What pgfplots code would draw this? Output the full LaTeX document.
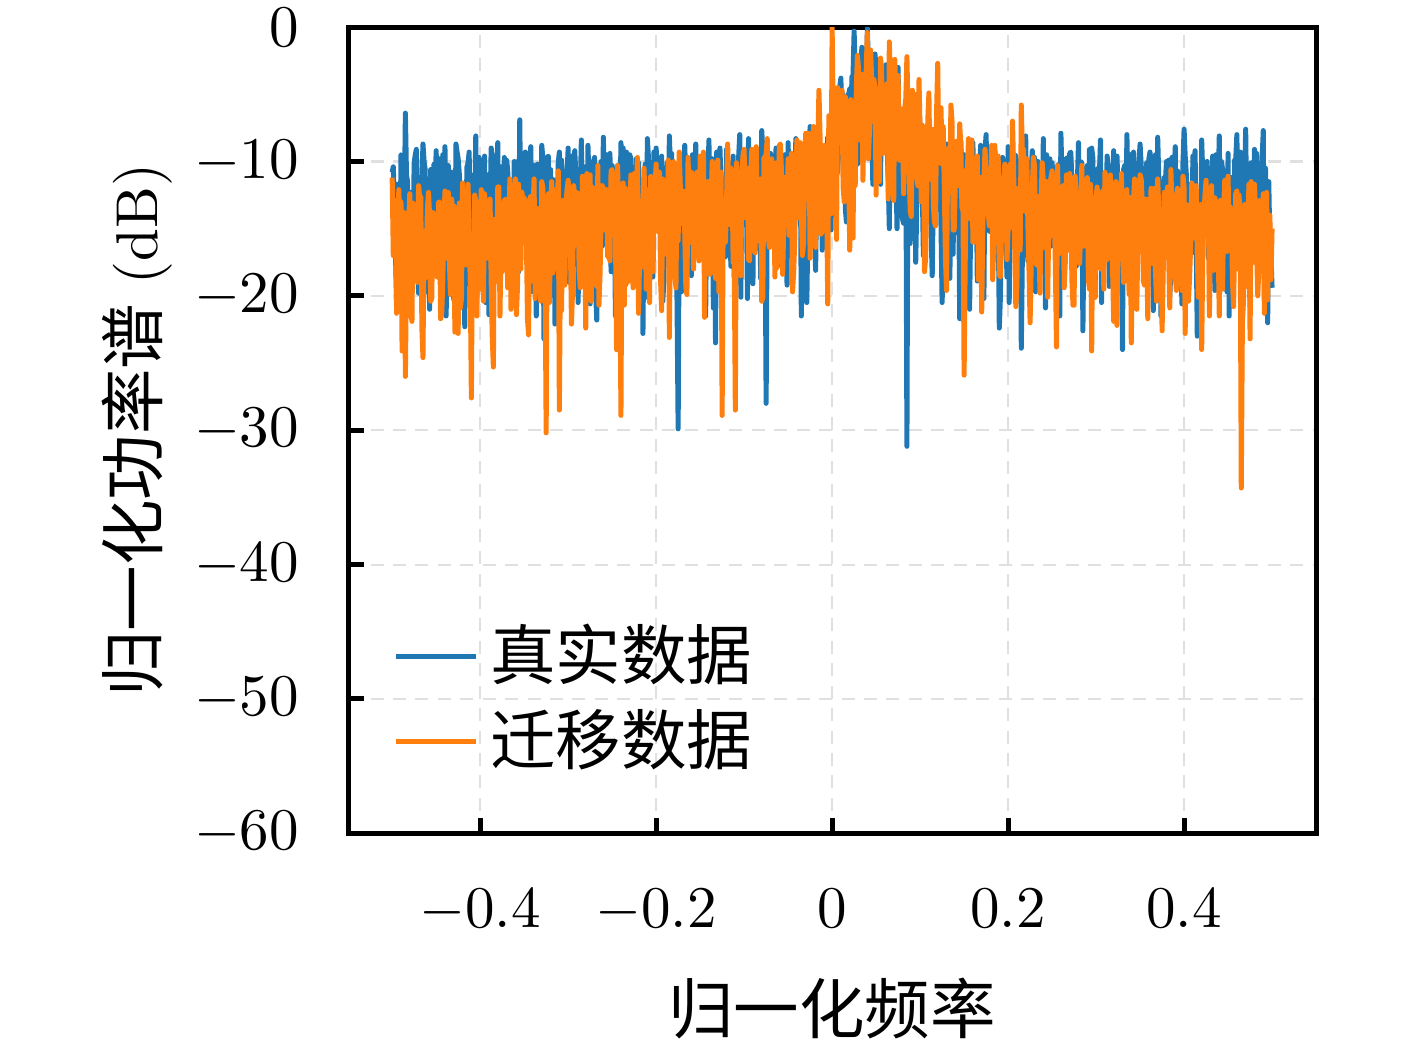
\documentclass[border=0pt]{standalone}
\usepackage{fontspec}
\usepackage{pgfplots}
\pgfplotsset{compat=1.18}
\usepackage{pgfplotstable}
\newfontfamily\cjk[Scale=1.11]{Noto Sans CJK SC}
\definecolor{tabblue}{HTML}{1F77B4}
\definecolor{taborange}{HTML}{FF7F0E}
\pgfplotstableread{
x b o
-0.50000 -10.8 -11.2
-0.49875 -10.4 -17.0
-0.49750 -12.9 -16.2
-0.49625 -16.8 -12.9
-0.49500 -20.5 -21.3
-0.49375 -11.7 -19.9
-0.49250 -18.3 -12.1
-0.49125 -19.0 -15.3
-0.49000 -9.5 -13.0
-0.48875 -9.6 -24.1
-0.48750 -9.8 -19.4
-0.48625 -13.7 -13.8
-0.48500 -6.4 -26.0
-0.48375 -11.0 -18.2
-0.48250 -11.5 -14.8
-0.48125 -20.5 -14.5
-0.48000 -14.2 -12.4
-0.47875 -12.3 -21.4
-0.47750 -16.9 -21.9
-0.47625 -15.6 -13.1
-0.47500 -10.1 -18.9
-0.47375 -9.5 -14.1
-0.47250 -9.1 -15.3
-0.47125 -14.9 -19.0
-0.47000 -19.8 -11.8
-0.46875 -18.2 -12.7
-0.46750 -13.4 -12.6
-0.46625 -11.4 -22.4
-0.46500 -8.7 -24.6
-0.46375 -10.0 -15.2
-0.46250 -10.6 -18.7
-0.46125 -19.7 -17.6
-0.46000 -12.3 -13.6
-0.45875 -13.1 -12.3
-0.45750 -21.0 -14.0
-0.45625 -10.6 -20.4
-0.45500 -17.6 -20.2
-0.45375 -16.3 -13.8
-0.45250 -10.2 -16.9
-0.45125 -12.0 -17.1
-0.45000 -9.2 -14.1
-0.44875 -14.2 -18.6
-0.44750 -11.9 -13.1
-0.44625 -9.8 -13.0
-0.44500 -15.8 -21.7
-0.44375 -17.4 -21.4
-0.44250 -9.5 -19.0
-0.44125 -11.2 -14.5
-0.44000 -8.9 -12.2
-0.43875 -21.5 -17.2
-0.43750 -17.7 -15.2
-0.43625 -10.3 -12.3
-0.43500 -11.6 -17.4
-0.43375 -14.5 -19.9
-0.43250 -10.8 -12.8
-0.43125 -11.6 -13.8
-0.43000 -20.3 -13.3
-0.42875 -17.8 -22.7
-0.42750 -8.7 -17.6
-0.42625 -9.3 -15.1
-0.42500 -9.8 -22.8
-0.42375 -10.9 -13.1
-0.42250 -12.4 -20.9
-0.42125 -18.6 -20.2
-0.42000 -13.9 -11.6
-0.41875 -12.4 -13.9
-0.41750 -22.3 -13.7
-0.41625 -15.2 -17.7
-0.41500 -10.4 -16.7
-0.41375 -10.1 -11.7
-0.41250 -9.3 -15.9
-0.41125 -17.1 -19.0
-0.41000 -17.2 -27.6
-0.40875 -11.5 -15.8
-0.40750 -11.0 -19.8
-0.40625 -13.9 -12.5
-0.40500 -8.1 -12.9
-0.40375 -20.1 -21.5
-0.40250 -14.6 -13.5
-0.40125 -9.7 -14.1
-0.40000 -12.7 -19.5
-0.39875 -15.6 -12.1
-0.39750 -10.3 -16.6
-0.39625 -12.3 -20.4
-0.39500 -9.6 -12.4
-0.39375 -20.5 -13.5
-0.39250 -12.2 -13.0
-0.39125 -11.0 -17.2
-0.39000 -21.4 -15.8
-0.38875 -13.7 -12.8
-0.38750 -9.0 -18.9
-0.38625 -9.6 -23.1
-0.38500 -10.9 -25.3
-0.38375 -19.0 -14.3
-0.38250 -16.4 -14.4
-0.38125 -11.7 -18.9
-0.38000 -8.6 -11.9
-0.37875 -16.8 -11.9
-0.37750 -11.7 -21.5
-0.37625 -10.4 -16.0
-0.37500 -14.8 -18.2
-0.37375 -12.0 -16.1
-0.37250 -9.7 -12.9
-0.37125 -16.3 -12.8
-0.37000 -9.9 -13.4
-0.36875 -10.6 -19.4
-0.36750 -13.0 -16.2
-0.36625 -13.1 -11.3
-0.36500 -18.1 -21.0
-0.36375 -19.7 -16.6
-0.36250 -20.1 -14.9
-0.36125 -10.0 -14.2
-0.36000 -11.2 -11.3
-0.35875 -11.4 -21.4
-0.35750 -10.0 -19.1
-0.35625 -18.2 -11.7
-0.35500 -6.9 -16.4
-0.35375 -14.9 -18.0
-0.35250 -12.8 -12.3
-0.35125 -9.5 -13.1
-0.35000 -13.5 -12.7
-0.34875 -9.3 -14.1
-0.34750 -11.1 -15.4
-0.34625 -17.8 -21.7
-0.34500 -9.4 -22.9
-0.34375 -11.6 -12.8
-0.34250 -8.9 -12.6
-0.34125 -14.5 -18.9
-0.34000 -19.7 -13.9
-0.33875 -10.3 -11.3
-0.33750 -14.3 -20.2
-0.33625 -21.5 -16.2
-0.33500 -10.2 -17.8
-0.33375 -11.2 -13.5
-0.33250 -10.4 -14.1
-0.33125 -17.4 -20.4
-0.33000 -8.8 -11.5
-0.32875 -9.8 -12.0
-0.32750 -23.2 -16.8
-0.32625 -14.2 -17.6
-0.32500 -15.6 -30.2
-0.32375 -9.7 -13.1
-0.32250 -9.6 -12.4
-0.32125 -20.1 -20.5
-0.32000 -10.6 -14.6
-0.31875 -13.9 -11.5
-0.31750 -11.3 -18.3
-0.31625 -11.5 -14.8
-0.31500 -22.1 -12.1
-0.31375 -17.1 -18.0
-0.31250 -15.9 -14.6
-0.31125 -10.1 -10.7
-0.31000 -9.3 -28.5
-0.30875 -15.2 -16.7
-0.30750 -9.9 -21.1
-0.30625 -12.4 -12.9
-0.30500 -12.4 -15.2
-0.30375 -18.6 -19.2
-0.30250 -12.0 -13.2
-0.30125 -10.9 -12.1
-0.30000 -9.0 -11.4
-0.29875 -19.0 -13.3
-0.29750 -10.9 -15.8
-0.29625 -9.6 -22.1
-0.29500 -17.3 -19.6
-0.29375 -13.7 -11.8
-0.29250 -9.2 -12.7
-0.29125 -11.0 -16.2
-0.29000 -10.7 -12.3
-0.28875 -20.5 -12.5
-0.28750 -16.6 -18.1
-0.28625 -12.3 -19.4
-0.28500 -8.4 -16.9
-0.28375 -15.6 -11.1
-0.28250 -11.4 -13.6
-0.28125 -10.4 -15.0
-0.28000 -14.1 -22.4
-0.27875 -16.8 -10.9
-0.27750 -8.8 -16.0
-0.27625 -11.7 -17.9
-0.27500 -20.6 -11.0
-0.27375 -11.4 -20.4
-0.27250 -13.1 -11.9
-0.27125 -10.0 -13.2
-0.27000 -9.7 -14.8
-0.26875 -19.7 -15.6
-0.26750 -21.8 -19.3
-0.26625 -13.1 -10.3
-0.26500 -11.9 -20.7
-0.26375 -10.6 -18.4
-0.26250 -10.0 -14.2
-0.26125 -16.3 -11.8
-0.26000 -8.2 -12.6
-0.25875 -12.0 -15.1
-0.25750 -11.8 -12.1
-0.25625 -9.5 -12.1
-0.25500 -16.2 -17.1
-0.25375 -14.9 -17.0
-0.25250 -9.4 -17.4
-0.25125 -18.2 -10.7
-0.25000 -10.3 -10.6
-0.24875 -11.2 -12.5
-0.24750 -14.0 -13.0
-0.24625 -21.5 -15.2
-0.24500 -12.8 -24.0
-0.24375 -10.3 -10.3
-0.24250 -10.7 -16.5
-0.24125 -14.5 -17.9
-0.24000 -8.6 -28.9
-0.23875 -11.6 -11.8
-0.23750 -9.0 -11.6
-0.23625 -17.8 -20.7
-0.23500 -19.2 -12.0
-0.23375 -9.3 -13.1
-0.23250 -12.3 -19.0
-0.23125 -14.2 -16.6
-0.23000 -9.5 -15.7
-0.22875 -9.8 -11.0
-0.22750 -17.5 -14.0
-0.22625 -17.4 -19.4
-0.22500 -13.6 -10.9
-0.22375 -15.2 -15.7
-0.22250 -9.8 -12.3
-0.22125 -10.1 -9.7
-0.22000 -10.1 -21.3
-0.21875 -17.1 -17.0
-0.21750 -11.6 -17.9
-0.21625 -11.5 -13.8
-0.21500 -22.8 -13.1
-0.21375 -13.9 -10.5
-0.21250 -10.2 -13.8
-0.21125 -20.1 -19.5
-0.21000 -8.3 -17.6
-0.20875 -9.7 -12.1
-0.20750 -15.1 -20.5
-0.20625 -10.9 -11.1
-0.20500 -11.4 -11.2
-0.20375 -18.6 -18.2
-0.20250 -9.3 -12.6
-0.20125 -12.4 -11.9
-0.20000 -9.0 -10.2
-0.19875 -11.0 -15.2
-0.19750 -11.8 -14.6
-0.19625 -13.7 -10.8
-0.19500 -15.4 -18.8
-0.19375 -9.6 -21.1
-0.19250 -20.4 -11.3
-0.19125 -19.0 -12.3
-0.19000 -10.5 -12.5
-0.18875 -11.7 -16.9
-0.18750 -10.1 -16.7
-0.18625 -16.8 -9.9
-0.18500 -8.1 -23.1
-0.18375 -10.4 -14.0
-0.18250 -9.4 -13.2
-0.18125 -15.6 -10.1
-0.18000 -13.2 -10.0
-0.17875 -12.3 -18.4
-0.17750 -13.9 -19.4
-0.17625 -20.5 -11.5
-0.17500 -29.9 -15.9
-0.17375 -13.1 -9.3
-0.17250 -11.1 -11.9
-0.17125 -19.7 -14.6
-0.17000 -9.6 -12.2
-0.16875 -10.0 -12.2
-0.16750 -8.8 -15.3
-0.16625 -11.4 -19.4
-0.16500 -12.1 -19.9
-0.16375 -18.2 -9.7
-0.16250 -16.0 -12.8
-0.16125 -14.9 -16.0
-0.16000 -18.5 -10.8
-0.15875 -9.5 -11.1
-0.15750 -10.6 -18.0
-0.15625 -12.0 -14.1
-0.15500 -8.7 -14.3
-0.15375 -16.3 -10.8
-0.15250 -12.4 -13.4
-0.15125 -10.6 -17.4
-0.15000 -11.0 -9.6
-0.14875 -14.5 -16.9
-0.14750 -9.7 -11.1
-0.14625 -10.3 -9.3
-0.14500 -14.7 -21.6
-0.14375 -21.5 -14.2
-0.14250 -12.9 -16.4
-0.14125 -11.2 -11.5
-0.14000 -8.4 -11.7
-0.13875 -17.4 -18.4
-0.13750 -10.3 -12.9
-0.13625 -9.8 -10.0
-0.13500 -20.9 -16.1
-0.13375 -14.2 -15.6
-0.13250 -23.5 -18.7
-0.13125 -9.3 -12.1
-0.13000 -10.0 -9.9
-0.12875 -17.8 -19.7
-0.12750 -9.0 -11.4
-0.12625 -11.6 -10.8
-0.12500 -12.6 -28.9
-0.12375 -11.5 -12.8
-0.12250 -11.5 -15.2
-0.12125 -17.1 -16.0
-0.12000 -9.1 -13.0
-0.11875 -10.1 -8.7
-0.11750 -14.8 -12.0
-0.11625 -15.2 -14.7
-0.11500 -17.8 -10.5
-0.11375 -12.4 -10.9
-0.11250 -9.6 -17.5
-0.11125 -18.6 -17.2
-0.11000 -10.8 -28.5
-0.10875 -10.9 -10.1
-0.10750 -12.2 -13.8
-0.10625 -9.7 -11.1
-0.10500 -8.0 -12.4
-0.10375 -20.1 -18.5
-0.10250 -10.5 -10.7
-0.10125 -13.9 -9.5
-0.10000 -13.3 -9.1
-0.09875 -10.7 -14.2
-0.09750 -11.6 -14.1
-0.09625 -20.2 -10.5
-0.09500 -8.3 -17.3
-0.09375 -12.0 -17.4
-0.09250 -9.3 -11.0
-0.09125 -15.3 -9.1
-0.09000 -19.1 -10.6
-0.08875 -10.1 -13.0
-0.08750 -14.0 -16.8
-0.08625 -16.5 -8.9
-0.08500 -10.2 -14.7
-0.08375 -11.4 -15.9
-0.08250 -10.8 -12.3
-0.08125 -18.7 -11.3
-0.08000 -7.7 -20.4
-0.07875 -9.3 -20.1
-0.07750 -17.1 -9.7
-0.07625 -13.4 -9.8
-0.07500 -28.0 -9.4
-0.07375 -12.6 -8.3
-0.07250 -9.9 -15.6
-0.07125 -10.1 -16.4
-0.07000 -9.4 -12.9
-0.06875 -15.8 -9.8
-0.06750 -11.3 -11.8
-0.06625 -11.5 -13.1
-0.06500 -12.7 -18.6
-0.06375 -9.0 -10.1
-0.06250 -13.6 -17.9
-0.06125 -14.4 -15.0
-0.06000 -8.9 -8.8
-0.05875 -17.7 -8.7
-0.05750 -9.5 -10.9
-0.05625 -10.9 -18.4
-0.05500 -16.4 -15.0
-0.05375 -9.5 -11.2
-0.05250 -12.1 -13.7
-0.05125 -19.2 -13.6
-0.05000 -8.6 -9.8
-0.04875 -13.5 -15.5
-0.04750 -10.4 -11.2
-0.04625 -10.6 -9.4
-0.04500 -13.9 -19.7
-0.04375 -16.8 -18.3
-0.04250 -12.6 -15.9
-0.04125 -8.3 -10.7
-0.04000 -9.2 -8.4
-0.03875 -13.2 -14.2
-0.03750 -9.0 -10.3
-0.03625 -8.8 -8.6
-0.03500 -21.5 -13.6
-0.03375 -16.4 -17.0
-0.03250 -11.9 -16.1
-0.03125 -10.2 -10.1
-0.03000 -10.0 -7.9
-0.02875 -20.5 -12.8
-0.02750 -14.7 -9.5
-0.02625 -9.3 -7.9
-0.02500 -7.4 -17.2
-0.02375 -9.5 -10.7
-0.02250 -9.8 -12.7
-0.02125 -11.9 -7.4
-0.02000 -15.2 -9.0
-0.01875 -18.1 -16.4
-0.01750 -11.2 -8.6
-0.01625 -7.7 -9.0
-0.01500 -9.6 -4.7
-0.01375 -8.9 -8.0
-0.01250 -8.8 -15.4
-0.01125 -16.6 -15.1
-0.01000 -12.0 -14.5
-0.00875 -10.4 -8.8
-0.00750 -13.6 -10.1
-0.00625 -13.2 -12.6
-0.00500 -8.2 -20.6
-0.00375 -8.1 -6.6
-0.00250 -10.9 -12.8
-0.00125 -15.1 -13.9
0.00000 -10.4 0.0
0.00125 -13.0 -6.9
0.00250 -7.9 -9.6
0.00375 -5.7 -11.5
0.00500 -6.1 -15.8
0.00625 -10.8 -4.5
0.00750 -9.2 -6.8
0.00875 -4.4 -8.6
0.01000 -3.8 -8.3
0.01125 -9.6 -4.7
0.01250 -5.0 -11.9
0.01375 -6.3 -13.0
0.01500 -13.5 -5.2
0.01625 -14.5 -6.1
0.01750 -8.4 -7.2
0.01875 -5.0 -9.8
0.02000 -4.6 -16.6
0.02125 -7.7 -5.4
0.02250 -3.7 -9.8
0.02375 -3.6 -15.7
0.02500 -0.3 -6.0
0.02625 -3.4 -11.8
0.02750 -6.2 -4.5
0.02875 -10.2 -2.1
0.03000 -9.8 -3.1
0.03125 -6.9 -8.4
0.03250 -4.1 -8.0
0.03375 -1.5 -3.5
0.03500 -2.5 -11.4
0.03625 -4.0 -6.5
0.03750 -7.5 -5.3
0.03875 -8.3 -3.2
0.04000 -0.1 -0.4
0.04125 -2.6 -9.8
0.04250 -3.4 -7.6
0.04375 -5.1 -1.7
0.04500 -6.8 -4.0
0.04625 -11.7 -7.0
0.04750 -5.9 -3.9
0.04875 -2.0 -4.6
0.05000 -3.2 -12.5
0.05125 -4.7 -4.6
0.05250 -7.1 -6.0
0.05375 -10.9 -11.5
0.05500 -11.7 -2.3
0.05625 -3.3 -3.1
0.05750 -4.8 -9.4
0.05875 -7.7 -8.7
0.06000 -4.4 -6.4
0.06125 -2.8 -5.2
0.06250 -8.8 -4.2
0.06375 -11.3 -12.8
0.06500 -15.0 -1.1
0.06625 -5.1 -3.9
0.06750 -6.3 -7.7
0.06875 -8.0 -10.0
0.07000 -5.7 -12.9
0.07125 -3.8 -2.4
0.07250 -10.2 -5.5
0.07375 -15.0 -7.3
0.07500 -3.0 -3.6
0.07625 -11.2 -9.9
0.07750 -7.0 -9.9
0.07875 -8.4 -6.1
0.08000 -14.3 -7.8
0.08125 -14.6 -12.4
0.08250 -12.9 -6.1
0.08375 -6.9 -5.3
0.08500 -31.2 -2.2
0.08625 -5.7 -6.3
0.08750 -8.1 -10.6
0.08875 -16.1 -13.7
0.09000 -6.9 -14.1
0.09125 -9.9 -4.7
0.09250 -14.4 -6.9
0.09375 -7.5 -8.0
0.09500 -17.5 -5.0
0.09625 -13.1 -11.2
0.09750 -9.6 -11.8
0.09875 -6.1 -3.9
0.10000 -7.4 -8.0
0.10125 -9.7 -13.0
0.10250 -12.2 -7.3
0.10375 -17.0 -8.4
0.10500 -16.8 -18.2
0.10625 -7.6 -17.2
0.10750 -9.0 -12.6
0.10875 -11.7 -6.9
0.11000 -9.1 -4.9
0.11125 -9.0 -11.3
0.11250 -15.3 -8.1
0.11375 -18.5 -7.6
0.11500 -12.3 -13.1
0.11625 -10.3 -14.5
0.11750 -10.5 -14.8
0.11875 -13.6 -6.2
0.12000 -6.8 -2.7
0.12125 -8.4 -10.1
0.12250 -8.2 -7.9
0.12375 -14.8 -6.0
0.12500 -20.5 -10.2
0.12625 -17.2 -7.4
0.12750 -13.7 -12.0
0.12875 -10.4 -17.1
0.13000 -8.7 -19.6
0.13125 -9.0 -9.9
0.13250 -10.1 -9.0
0.13375 -18.7 -12.3
0.13500 -13.4 -5.8
0.13625 -12.1 -7.0
0.13750 -16.9 -15.1
0.13875 -9.6 -15.1
0.14000 -10.0 -11.7
0.14125 -15.3 -8.5
0.14250 -9.4 -9.5
0.14375 -11.0 -11.8
0.14500 -21.7 -7.2
0.14625 -8.5 -8.8
0.14750 -12.0 -13.4
0.14875 -13.9 -13.7
0.15000 -9.5 -25.9
0.15125 -16.9 -17.5
0.15250 -10.7 -10.6
0.15375 -10.7 -10.6
0.15500 -12.8 -8.3
0.15625 -21.0 -13.3
0.15750 -14.5 -14.3
0.15875 -9.8 -8.4
0.16000 -8.6 -16.0
0.16125 -14.0 -16.0
0.16250 -9.9 -9.9
0.16375 -11.1 -9.9
0.16500 -18.9 -9.6
0.16625 -17.3 -18.8
0.16750 -11.8 -16.7
0.16875 -8.8 -11.2
0.17000 -10.4 -21.2
0.17125 -13.7 -14.7
0.17250 -20.2 -11.6
0.17375 -9.3 -9.1
0.17500 -8.0 -10.9
0.17625 -12.4 -11.0
0.17750 -10.3 -13.9
0.17875 -15.2 -14.8
0.18000 -14.6 -13.8
0.18125 -10.1 -8.8
0.18250 -8.9 -18.8
0.18375 -17.1 -16.1
0.18500 -9.3 -8.8
0.18625 -11.5 -12.9
0.18750 -12.7 -11.0
0.18875 -13.9 -9.6
0.19000 -22.4 -18.4
0.19125 -20.1 -18.6
0.19250 -10.0 -15.2
0.19375 -9.7 -11.2
0.19500 -11.1 -11.5
0.19625 -10.9 -10.2
0.19750 -15.8 -12.2
0.19875 -18.6 -17.3
0.20000 -8.9 -15.1
0.20125 -20.5 -11.2
0.20250 -11.2 -10.2
0.20375 -11.0 -14.9
0.20500 -13.7 -7.0
0.20625 -13.7 -10.5
0.20750 -9.5 -16.3
0.20875 -9.6 -20.8
0.21000 -10.2 -19.3
0.21125 -19.0 -12.0
0.21250 -13.3 -12.4
0.21375 -11.7 -16.6
0.21500 -23.9 -5.8
0.21625 -16.8 -9.6
0.21750 -10.6 -9.1
0.21875 -10.4 -13.7
0.22000 -8.1 -12.7
0.22125 -15.6 -9.8
0.22250 -17.4 -14.7
0.22375 -12.3 -18.1
0.22500 -11.8 -22.0
0.22625 -10.6 -17.8
0.22750 -9.2 -12.0
0.22875 -13.1 -9.7
0.23000 -9.7 -10.3
0.23125 -19.7 -15.0
0.23250 -12.1 -17.7
0.23375 -10.0 -12.6
0.23500 -17.0 -16.2
0.23625 -11.4 -19.8
0.23750 -10.4 -13.0
0.23875 -18.2 -10.1
0.24000 -8.3 -11.4
0.24125 -14.9 -16.4
0.24250 -20.9 -11.5
0.24375 -9.5 -11.5
0.24500 -12.9 -20.1
0.24625 -12.0 -14.5
0.24750 -9.8 -15.6
0.24875 -16.3 -11.2
0.25000 -10.1 -10.7
0.25125 -11.6 -11.8
0.25250 -12.3 -13.4
0.25375 -14.5 -17.9
0.25500 -20.0 -23.8
0.25625 -10.3 -10.3
0.25750 -10.2 -16.9
0.25875 -21.5 -15.2
0.26000 -7.9 -13.0
0.26125 -11.2 -12.5
0.26250 -14.1 -11.8
0.26375 -17.4 -19.4
0.26500 -13.2 -17.5
0.26625 -9.8 -11.0
0.26750 -9.7 -14.0
0.26875 -14.2 -16.6
0.27000 -9.4 -10.9
0.27125 -9.3 -13.1
0.27250 -11.4 -18.8
0.27375 -17.8 -20.7
0.27500 -16.5 -20.7
0.27625 -13.9 -11.1
0.27750 -17.8 -12.5
0.27875 -11.5 -14.4
0.28000 -8.6 -12.3
0.28125 -17.1 -17.6
0.28250 -10.0 -15.2
0.28375 -10.1 -10.3
0.28500 -22.6 -15.4
0.28625 -15.2 -16.3
0.28750 -12.6 -11.6
0.28875 -12.4 -12.5
0.29000 -10.3 -11.2
0.29125 -18.6 -18.8
0.29250 -9.1 -19.5
0.29375 -10.9 -11.7
0.29500 -9.0 -24.1
0.29625 -9.7 -12.7
0.29750 -13.8 -13.9
0.29875 -20.1 -20.1
0.30000 -14.4 -12.6
0.30125 -13.7 -11.9
0.30250 -10.5 -15.6
0.30375 -11.0 -16.3
0.30500 -8.4 -18.0
0.30625 -20.5 -12.6
0.30750 -12.9 -12.2
0.30875 -12.3 -19.5
0.31000 -11.6 -10.8
0.31125 -15.6 -11.2
0.31250 -9.6 -17.3
0.31375 -10.4 -15.1
0.31500 -19.3 -14.9
0.31625 -16.8 -11.0
0.31750 -14.2 -13.6
0.31875 -11.7 -18.0
0.32000 -9.2 -21.9
0.32125 -19.0 -13.4
0.32250 -11.0 -11.5
0.32375 -9.6 -22.2
0.32500 -12.2 -11.7
0.32625 -19.7 -16.2
0.32750 -19.5 -16.0
0.32875 -13.1 -10.9
0.33000 -24.0 -16.8
0.33125 -10.6 -19.0
0.33250 -10.3 -14.4
0.33375 -16.3 -12.4
0.33500 -8.0 -12.1
0.33625 -12.0 -15.7
0.33750 -12.7 -19.9
0.33875 -9.5 -12.7
0.34000 -10.9 -23.5
0.34125 -14.9 -17.6
0.34250 -9.3 -12.9
0.34375 -18.2 -11.3
0.34500 -15.7 -13.5
0.34625 -11.4 -21.0
0.34750 -11.9 -15.7
0.34875 -10.0 -13.8
0.35000 -8.7 -11.0
0.35125 -10.3 -11.3
0.35250 -14.6 -13.1
0.35375 -14.5 -18.9
0.35500 -12.5 -19.2
0.35625 -11.6 -12.8
0.35750 -10.1 -16.6
0.35875 -17.8 -21.7
0.36000 -9.8 -12.8
0.36125 -9.3 -14.1
0.36250 -12.3 -12.0
0.36375 -14.2 -17.6
0.36500 -21.1 -16.1
0.36625 -9.8 -12.0
0.36750 -9.5 -18.2
0.36875 -17.4 -20.4
0.37000 -8.2 -11.3
0.37125 -11.2 -13.5
0.37250 -16.7 -14.0
0.37375 -21.5 -16.2
0.37500 -13.8 -22.6
0.37625 -17.1 -18.4
0.37750 -11.2 -12.3
0.37875 -11.5 -15.2
0.38000 -10.0 -13.7
0.38125 -13.9 -11.9
0.38250 -9.9 -17.1
0.38375 -20.1 -20.9
0.38500 -17.9 -10.6
0.38625 -9.7 -13.5
0.38750 -13.0 -14.8
0.38875 -10.9 -12.5
0.39000 -8.9 -18.5
0.39125 -18.6 -19.6
0.39250 -10.7 -12.0
0.39375 -12.4 -13.3
0.39500 -11.5 -14.2
0.39625 -15.2 -17.1
0.39750 -20.6 -19.6
0.39875 -10.1 -11.1
0.40000 -7.6 -11.9
0.40125 -9.6 -22.8
0.40250 -10.9 -13.2
0.40375 -19.0 -14.0
0.40500 -14.9 -20.4
0.40625 -11.7 -18.6
0.40750 -12.4 -16.3
0.40875 -16.8 -11.6
0.41000 -9.6 -12.5
0.41125 -10.4 -15.7
0.41250 -9.2 -12.7
0.41375 -15.6 -11.8
0.41500 -23.0 -17.0
0.41625 -12.3 -20.1
0.41750 -14.9 -18.7
0.41875 -20.5 -13.2
0.42000 -8.4 -24.0
0.42125 -11.0 -16.9
0.42250 -10.6 -14.1
0.42375 -13.7 -12.5
0.42500 -12.0 -11.4
0.42625 -10.0 -14.3
0.42750 -17.2 -12.4
0.42875 -11.4 -21.5
0.43000 -10.5 -15.8
0.43125 -18.2 -11.8
0.43250 -9.6 -16.9
0.43375 -14.9 -18.1
0.43500 -19.6 -12.7
0.43625 -9.5 -13.2
0.43750 -12.1 -13.0
0.43875 -12.0 -16.2
0.44000 -8.1 -21.5
0.44125 -16.3 -12.9
0.44250 -10.0 -19.2
0.44375 -10.6 -19.5
0.44500 -13.1 -13.3
0.44625 -13.1 -11.4
0.44750 -15.5 -14.6
0.44875 -19.7 -16.7
0.45000 -9.4 -11.1
0.45125 -21.5 -16.6
0.45250 -11.6 -13.4
0.45375 -11.2 -13.9
0.45500 -17.4 -18.9
0.45625 -17.4 -20.8
0.45750 -9.9 -16.0
0.45875 -9.8 -12.4
0.46000 -8.0 -12.2
0.46125 -14.2 -18.0
0.46250 -13.5 -12.5
0.46375 -9.3 -14.5
0.46500 -11.9 -34.3
0.46625 -17.8 -22.1
0.46750 -10.2 -20.4
0.46875 -11.6 -13.2
0.47000 -7.6 -13.6
0.47125 -14.5 -19.3
0.47250 -18.8 -14.3
0.47375 -10.3 -11.7
0.47500 -20.8 -23.2
0.47625 -10.1 -11.5
0.47750 -10.8 -12.0
0.47875 -15.2 -17.5
0.48000 -9.1 -11.7
0.48125 -12.4 -13.7
0.48250 -9.4 -16.8
0.48375 -18.6 -20.0
0.48500 -12.6 -17.9
0.48625 -10.9 -12.9
0.48750 -12.9 -13.1
0.48875 -9.7 -13.9
0.49000 -7.7 -12.4
0.49125 -20.1 -21.3
0.49250 -10.5 -18.4
0.49375 -13.9 -12.3
0.49500 -22.0 -20.3
0.49625 -11.5 -15.6
0.49750 -16.1 -14.0
0.49875 -17.1 -18.8
0.50000 -19.4 -15.0
}\psd

\begin{document}
\begin{tikzpicture}
\begin{axis}[name=ax, scale only axis, width=164pt, height=136.6pt,
  xmin=-0.55, xmax=0.55, ymin=-60, ymax=0,
  xtick={-0.4,-0.2,0,0.2,0.4}, ytick={-60,-50,-40,-30,-20,-10,0},
  tick align=inside, xtick pos=bottom, ytick pos=left,
  major tick length=2.6pt,
  tick style={line width=0.85pt, black},
  axis line style={line width=0.85pt},
  grid=major, grid style={dash pattern=on 2.2pt off 1.6pt, line width=0.35pt, color=black!12},
  xticklabel style={yshift=-6pt},
  yticklabel style={xshift=-4.8pt},
  xlabel={\cjk 归一化频率},
  xlabel style={yshift=-0.8pt},
  ylabel={{\cjk 归一化功率谱} (dB)},
  ylabel style={yshift=-3.2pt},
  legend cell align=left,
  legend style={at={(0.04,0.051)}, anchor=south west, draw=none, fill=none,
    inner sep=1pt, row sep=-0.5pt, font=\cjk},
  legend image code/.code={\draw[#1] (0pt,0pt) -- (13.5pt,0pt);},
]
\addplot[tabblue, line width=0.85pt, line join=round] table[x=x,y=b]{\psd};
\addlegendentry{真实数据}
\addplot[taborange, line width=0.85pt, line join=round] table[x=x,y=o]{\psd};
\addlegendentry{迁移数据}
\end{axis}
\pgfresetboundingbox
\path[use as bounding box] ([shift={(-59pt,-36.1pt)}]ax.south west) rectangle ([shift={(17.1pt,4.6pt)}]ax.north east);
\end{tikzpicture}
\end{document}
